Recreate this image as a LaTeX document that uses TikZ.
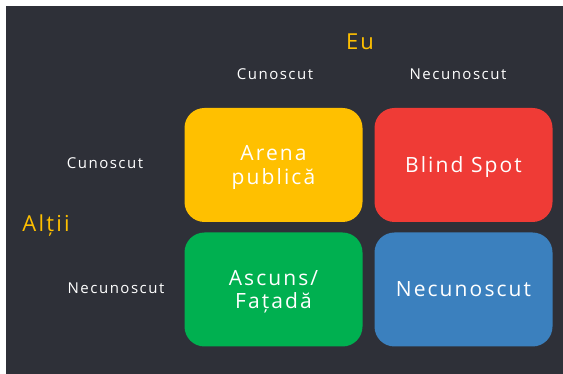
\documentclass[tikz,border=0pt]{standalone}
\usepackage{fontspec}
\setmainfont{Open Sans}[LetterSpace=10]
\usepackage{tikz}

\definecolor{bgdark}{HTML}{2E3038}
\definecolor{eugold}{HTML}{FFC000}
\definecolor{quadyellow}{HTML}{FFC000}
\definecolor{quadred}{HTML}{EF3B36}
\definecolor{quadgreen}{HTML}{00B050}
\definecolor{quadblue}{HTML}{3B80BE}

\begin{document}
\begin{tikzpicture}[x=1pt,y=1pt,
    quad/.style={rounded corners=20pt, minimum width=178pt, minimum height=114pt,
        text=white, align=center, text depth=0pt, font=\fontsize{21}{23.5}\selectfont},
    axislabel/.style={text=white, font=\fontsize{15}{16}\selectfont},
    titlelabel/.style={text=eugold, font=\fontsize{22}{24}\selectfont}]
    % Background
    \fill[white] (0,0) rectangle (563,374);
    \fill[bgdark] (6,0) rectangle (563,368);

    % Window
    \node[quad, fill=quadyellow] (arena) at (273.5,209) {Arena\\publică};
    \node[quad, fill=quadred] (blind) at (463.5,209) {Blind Spot};
    \node[quad, fill=quadgreen] (ascuns) at (273.5,84.5) {Ascuns/\\Fațadă};
    \node[quad, fill=quadblue] (necunoscut) at (463.5,84.5) {Necunoscut};

    % Axis labels
    \node[titlelabel] (eu) at (360,332) {Eu};
    \node[axislabel] (eucun) at (275,300) {Cunoscut};
    \node[axislabel] (eunec) at (458,300) {Necunoscut};

    \node[titlelabel] (altii) at (46,148) {Alții};
    \node[axislabel] (altiicun) at (105,211) {Cunoscut};
    \node[axislabel] (altiinec) at (116,86) {Necunoscut};
\end{tikzpicture}
\end{document}
